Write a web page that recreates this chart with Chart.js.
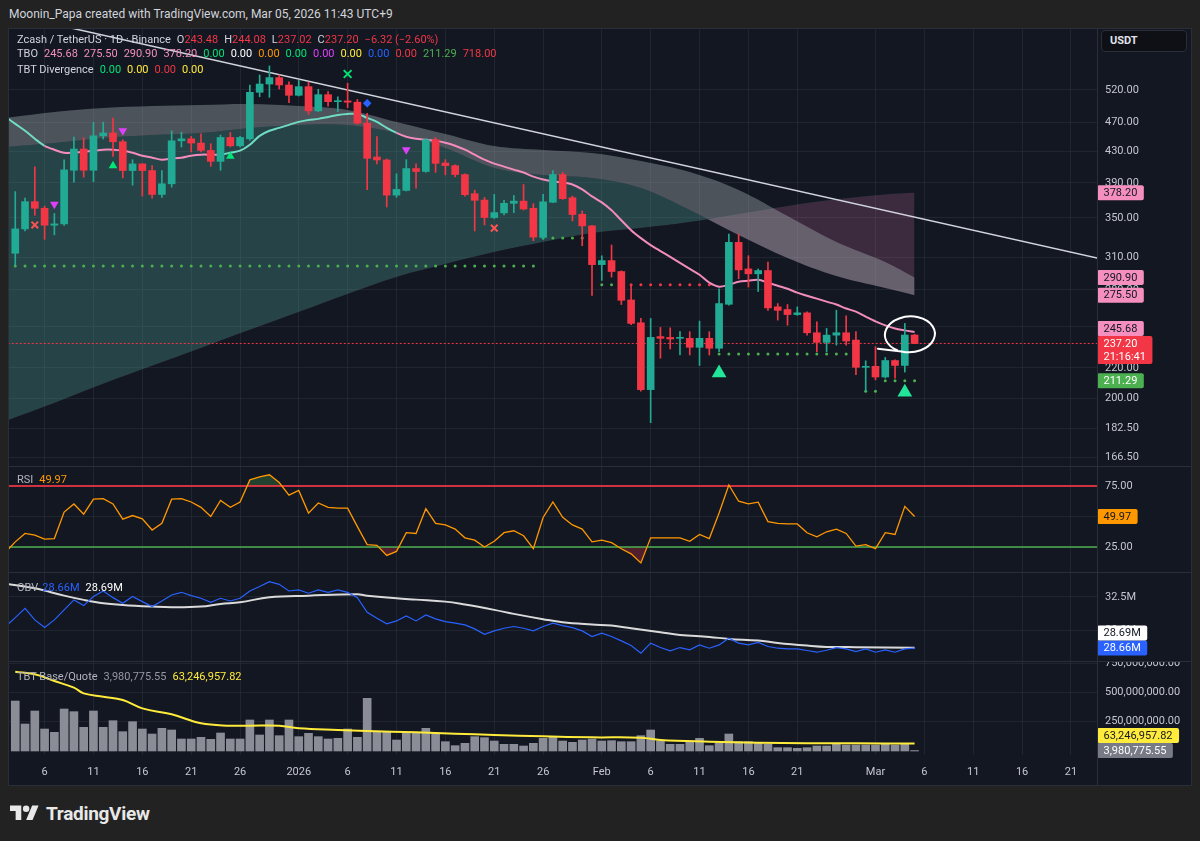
<!DOCTYPE html>
<html>
<head>
<meta charset="utf-8">
<title>Zcash / TetherUS · 1D · Binance</title>
<script src="https://cdn.jsdelivr.net/npm/chart.js@4.4.1/dist/chart.umd.min.js"></script>
<style>
  html, body { margin:0; padding:0; background:#222222; }
  #root { position:relative; width:1200px; height:841px; overflow:hidden; background:#222222; font-family: Roboto, "Liberation Sans", sans-serif; }
  #hdr { position:absolute; left:9px; top:6px; font-size:12px; line-height:16px; color:#d1d4dc; white-space:nowrap; }
  #frame { position:absolute; left:8px; top:28px; width:1184px; height:758px; background:#131722; box-sizing:border-box; border:1px solid #2a2e39; }
  canvas { position:absolute; left:9px; }
  .sep { position:absolute; background:#2a2e39; }
  .lg { position:absolute; left:17px; height:14px; line-height:14px; font-size:11px; white-space:nowrap; color:#d1d4dc; }
  .lg span { margin-left:6px; }
  .lg span.f { margin-left:0; }
  .lg i { font-style:normal; }
  #usdt { position:absolute; left:1101px; top:30px; width:86px; height:22px; box-sizing:border-box; border:1px solid #2a2e39; border-radius:4px; background:#0e1016; color:#e0e3eb; font-size:11px; font-weight:bold; line-height:20px; padding-left:8px; }
  #logo { position:absolute; left:10px; top:802px; height:22px; display:flex; align-items:center; color:#e8e8e8; font-size:19px; font-weight:bold; letter-spacing:-0.3px; }
  #logo svg { width:29px; height:23px; margin-right:7px; fill:#e8e8e8; }
</style>
</head>
<body>
<div id="root">
  <div id="hdr">Moonin_Papa created with TradingView.com, Mar 05, 2026 11:43 UTC+9</div>
  <div id="frame"></div>
  <canvas id="cMain" width="1182" height="437" style="top:29px"></canvas>
  <canvas id="cRsi" width="1182" height="105" style="top:467px"></canvas>
  <canvas id="cObv" width="1182" height="88" style="top:573px"></canvas>
  <canvas id="cVol" width="1182" height="123" style="top:662px"></canvas>
  <div class="sep" style="left:9px;top:466px;width:1182px;height:1px"></div>
  <div class="sep" style="left:9px;top:572px;width:1182px;height:1px"></div>
  <div class="sep" style="left:9px;top:661px;width:1182px;height:1px"></div>
  <div class="sep" style="left:1097px;top:29px;width:1px;height:756px"></div>

  <div class="lg" style="top:33px"><span class="f">Zcash / TetherUS · 1D · Binance</span><span>O<i style="color:#f23645">243.48</i></span><span>H<i style="color:#f23645">244.08</i></span><span>L<i style="color:#f23645">237.02</i></span><span>C<i style="color:#f23645">237.20</i></span><span style="color:#f23645">−6.32 (−2.60%)</span></div>
  <div class="lg" style="top:47px"><span class="f">TBO</span><span style="color:#f48fbf">245.68</span><span style="color:#f48fbf">275.50</span><span style="color:#f48fbf">290.90</span><span style="color:#f48fbf">378.20</span><span style="color:#00e676">0.00</span><span style="color:#ffffff">0.00</span><span style="color:#ff9800">0.00</span><span style="color:#00e676">0.00</span><span style="color:#e040fb">0.00</span><span style="color:#ffeb3b">0.00</span><span style="color:#2962ff">0.00</span><span style="color:#f23645">0.00</span><span style="color:#4caf50">211.29</span><span style="color:#f23645">718.00</span></div>
  <div class="lg" style="top:63px"><span class="f">TBT Divergence</span><span style="color:#00e676">0.00</span><span style="color:#ffeb3b">0.00</span><span style="color:#f23645">0.00</span><span style="color:#ffeb3b">0.00</span></div>
  <div class="lg" style="top:473px"><span class="f" style="color:#b2b5be">RSI</span><span style="color:#ff9800">49.97</span></div>
  <div class="lg" style="top:581px"><span class="f" style="color:#b2b5be">OBV</span><span style="color:#2962ff;margin-left:4px">28.66M</span><span style="color:#ffffff">28.69M</span></div>
  <div class="lg" style="top:670px"><span class="f" style="color:#b2b5be">TBT Base/Quote</span><span style="color:#9598a1">3,980,775.55</span><span style="color:#ffeb3b">63,246,957.82</span></div>

  <div id="usdt">USDT</div>
  <div id="logo"><svg viewBox="0 0 36 28"><path d="M14 22H7V11H0V4h14v18zM28 22h-8l7.5-18h8L28 22z"/><circle cx="20" cy="8" r="4"/></svg>TradingView</div>
</div>

<script>
// ================= DATA =================
// Daily candles, Dec 3 2025 .. Mar 5 2026 (93 sessions). x = days from Jan 1 2026.
const firstCandleDay = -29;
const open = [313.6,338.2,368,360.5,342.1,343.5,405.6,433.1,405.6,451.2,
455.2,443,405.2,413.6,405.2,376.3,388.9,444.3,447,441.2,
431.3,416.9,448.9,437.5,447,516.3,529.7,540.3,528.1,511.5,
525.4,487.4,512.5,501.5,502.7,500.7,469.2,422.6,418.7,375.5,
381,407.7,404,445.7,414.8,411.4,400.2,377.2,369.8,350.3,
355.4,366.1,368.6,360.5,329.4,367.3,400.2,372.5,353.9,341.4,
302.8,306.6,296.4,271.4,252.9,205.6,242.3,241.7,241,241,
234.4,241,233.7,267.8,324.4,298.8,294.3,297.3,265.7,263.5,
259.4,260.8,245.2,238,243.4,245.2,239.7,220.3,221,213.8,
225,221.6,243.48];
const high = [379.6,372,409.8,363,354.7,419,449.5,448.5,470.7,470.7,
476.5,445.7,419,414,411.4,405.2,458.2,456.5,450.4,454,
440.3,452.2,455.9,450.4,528.1,544.7,560.2,544.7,533.5,536.3,
533,521.2,517.3,509.2,531,505,483.9,450.3,420,401.1,
419.1,413.6,447.5,448.9,419.1,412.3,401.1,381.4,372.9,376.3,
369.5,375.2,388.1,365.7,376.3,405.2,403,374.4,357.5,342,
311.2,321.7,297,283.9,256.3,256.3,249.3,249,246,246,
254.2,246,281,332.8,332.8,311.3,298.8,305.1,268.4,267.6,
265.7,261.6,253.7,248.5,262.9,258.4,246,224.8,234.9,227.1,
225.5,252.4,244.08];
const low = [302.5,336,352.8,327.4,332,342,390.9,397,391.4,446.7,
423.3,396.1,387.3,374.4,372.1,372.9,384.9,435.8,429.2,429.2,
410.5,405.6,435.8,435.8,444.9,509.2,508.3,521.6,500,510.4,
482.4,486.3,494.4,486.3,492.3,468,382,413.6,362,372.9,
380.3,383.7,403,403,399.8,397.2,374.4,336.1,342.4,349.2,
353.2,355.7,358.6,326,327.7,366.7,370.6,346.7,321,275.2,
288.3,291.3,267.6,251.5,204.6,185.6,226.6,233.2,228.9,228.9,
221.6,228.9,231.3,267,289.8,282.5,278.6,262.8,255,251,
258.8,243.4,231.3,231.3,236,236,215.3,204.6,211.9,213.1,
213.1,217.1,237.02];
const close = [338.2,368,360.5,342.1,343.5,406,433.1,405.6,451.2,455.2,
443,405.2,413.6,405.2,376.3,388.9,444.3,447,441.2,431.3,
416.9,448.9,437.5,448.9,516.3,529.7,540.3,528.1,511.5,525.4,
487.4,512.5,501.5,502.7,500.7,469.2,420.8,418.7,375.5,382.2,
407.7,404,445.7,414.3,411.4,400.2,376,369.5,350.3,355.7,
366.1,368.6,359.7,329.7,367.8,400.2,371.4,353.6,341.4,302.8,
306.6,296.4,271.1,252.4,205.6,241.7,241,240.5,241.7,234.4,
241,233.7,268.4,324.4,297.9,294.3,297.3,264.8,262.8,259.4,
260.8,245.2,238,243.4,245.2,239,220.3,221,213.8,225,
221.6,243.48,237.2];

// TBT Base/Quote volume (millions), per candle
const volumeM = [426.6,230.4,341.3,187.7,159.3,358.3,335.6,201.9,341.3,201.9,
258.8,165,250.3,187.7,145,193.4,179.2,102.4,102.4,116.6,
99.5,153.6,102.4,102.4,264.5,136.5,264.5,130.8,264.5,122.3,
150.7,122.3,102.4,108.1,187.7,116.6,449.4,165,165,93.9,
159.3,159.3,193.4,150.7,79.6,45.5,65.4,122.3,113.8,85.3,
56.9,56.9,42.7,65.4,108.1,122.3,85.3,73.9,93.9,102.4,
85.3,88.2,79.6,79.6,130.8,179.2,88.2,56.9,56.9,79.6,
108.1,45.5,71.1,145,79.6,79.6,65.4,56.9,28.4,28.4,
22.8,28.4,42.7,42.7,65.4,51.2,51.2,51.2,51.2,56.9,
51.2,65.4,3.98];
const volMaDays = [-29,-27,-25,-23,-22,-20,-18,-16,-13,-10,-7,-5,-2,0,4,7,12,16,20,25,30,35,37,42,47,52,57,63];
const volMaM = [676.9,654.1,597.2,540.4,492,463.6,435.1,364,312.8,236.1,216.1,216.1,216.1,193.4,179.2,170.6,159.3,147.9,136.5,125.1,116.6,113.8,93.9,79.6,71.1,65.4,65.4,63.25];

// Indicator series start one session earlier (Dec 2, day -30)
const firstIndicatorDay = -30;
const rsi = [20.8,29.2,36.1,34.7,31.4,31.9,53.6,60.3,51.9,64.2,64.7,
60.3,47.8,50.8,48.1,38.9,44.4,64.2,64.7,61.9,57.5,
50.0,63.1,57.5,61.9,80.0,82.5,84.2,77.8,67.5,71.4,
52.8,61.1,57.5,56.9,56.9,41.7,26.9,26.4,18.1,21.4,
36.7,36.1,56.4,44.4,43.1,39.7,32.5,30.6,25.0,29.7,
36.7,38.3,34.2,23.6,49.2,61.9,49.4,43.1,39.7,29.2,
30.6,28.6,23.6,19.4,11.9,32.5,32.5,32.5,32.5,29.7,
35.3,31.9,52.8,75.8,62.5,60.3,61.7,45.8,44.4,43.9,
43.9,36.7,33.3,37.5,39.7,36.1,25.8,26.9,23.6,36.7,
35.3,58.3,49.97];
const obvM = [30.27,30.95,31.65,30.78,30.20,30.78,31.53,32.28,31.85,32.53,32.95,
32.45,32.03,32.53,32.15,31.78,32.20,32.65,32.85,32.60,32.40,
32.10,32.40,32.20,32.40,32.95,33.28,33.65,33.45,32.95,33.03,
32.78,33.03,32.85,33.03,32.85,32.45,31.35,30.90,30.48,30.70,
31.08,30.70,31.15,30.85,30.65,30.53,30.40,30.10,29.70,29.95,
30.15,30.28,30.15,29.95,30.28,30.53,30.35,30.20,29.95,29.53,
29.78,29.53,29.20,28.85,28.28,29.03,28.70,28.45,28.70,28.53,
28.90,28.65,28.90,29.40,29.03,28.90,29.08,28.78,28.65,28.60,
28.60,28.48,28.35,28.50,28.70,28.60,28.40,28.60,28.35,28.53,
28.35,28.60,28.66];
const obvMaDays = [-30,-27,-24,-22,-20,-18,-15,-13,-10,-8,-6,-3,1,6,7,10,12,15,17,20,22,25,27,30,32,34,37,39,42,44,47,49,52,54,57,63];
const obvMaM = [33.50,33.15,32.60,32.28,32.03,31.90,31.78,31.73,31.78,31.98,32.10,32.48,32.60,32.70,32.60,32.40,32.30,32.15,31.93,31.53,31.23,30.83,30.60,30.43,30.35,30.15,29.85,29.65,29.50,29.35,29.23,29.05,28.85,28.75,28.73,28.69];
// TBO fast line
const tboFast = [478.7,468.2,458.3,447.1,437.5,432.2,428.2,428.2,429.5,430.9,432.2,
432.2,430.9,428.2,424.3,421.7,419.1,420.4,421.7,424.3,425.6,
425.6,425.6,428.2,430.9,438.9,451.2,458.3,462.5,466.8,471.1,
474.0,475.5,478.4,481.4,482.9,482.9,476.9,471.1,462.5,455.4,
449.9,447.1,445.7,444.3,441.6,437.5,432.2,425.6,419.1,414.0,
410.2,406.4,402.7,397.7,394.1,391.7,390.5,388.1,382.2,374.0,
367.2,358.3,347.4,336.9,328.7,321.7,315.8,310.1,304.4,298.8,
293.4,286.3,282.8,284.5,287.2,288.1,289.0,286.3,283.6,281.0,
277.6,275.0,272.5,270.0,267.6,264.3,261.8,257.8,254.0,250.9,
248.5,247.0,245.68];
const tboFastBullSpans = [[-30,-26],[-8,10]];
// TBO cloud lines (medium / slow / slowest)
const cloudDays  = [-30,-25,-20,-15,-10,-5,0,5,10,15,20,25,30,35,40,45,50,55,60,63];
const cloudUpper = [476.8,485.8,491.8,494.9,496.4,497.9,494.9,488.8,471.0,453.8,437.2,431.9,427.9,417.4,403.4,381.6,352.0,324.8,305.3,290.9];
const cloudMid   = [435.9,441.3,448.2,452.4,455.2,462.3,466.6,466.6,455.2,434.5,408.5,399.7,396.0,383.9,358.6,331.9,309.1,292.3,281.7,275.5];
const cloudSlow  = [186.6,197.3,209.3,221.3,233.9,247.4,261.5,276.5,291.5,303.4,314.9,324.8,334.0,339.2,345.5,354.2,363.1,370.6,376.3,378.2];
// TBO support / stop dots, per candle
const supportLvl = [301.6,301.6,301.6,301.6,301.6,301.6,301.6,301.6,301.6,301.6,
301.6,301.6,301.6,301.6,301.6,301.6,301.6,301.6,301.6,301.6,
301.6,301.6,301.6,301.6,301.6,301.6,301.6,301.6,301.6,301.6,
301.6,301.6,301.6,301.6,301.6,301.6,301.6,301.6,301.6,301.6,
301.6,301.6,301.6,301.6,301.6,301.6,301.6,301.6,301.6,301.6,
301.6,301.6,301.6,301.6,328.7,328.7,328.7,328.7,328.7,328.7,
284.6,284.6,284.6,284.6,284.6,284.6,284.6,284.6,284.6,284.6,
284.6,284.6,229.6,229.6,229.6,229.6,229.6,229.6,229.6,229.6,
229.6,229.6,229.6,229.6,229.6,229.6,229.6,204.6,204.6,211.29,
211.29,211.29,211.29];
const supportBearCandles = [60,63,64,65,66,67,68,69,70,71,72];
// Signal markers (day, price)
const sellDays = [-25,-18,11],  sellPx = [364.9,458.3,432.2];
const buyDays = [-19,-7],       buyPx = [411.4,423.4];
const bigBuyDays = [43,62],     bigBuyPx = [216.4,204.0];
const exitDays = [-27,20],      exitPx = [342.4,339.0];
const topDays = [5],            topPx = [546.4];
const divDays = [7],            divPx = [499.0];
// Trend line (two anchors) and last price
const trendDays = [-30, 84], trendPx = [659.4, 304.2];
const lastPrice = 237.20;
// Hand-drawn ring annotation box (days / prices)
const ring = { day0: 59.96, day1: 65.08, top: 257.9, bottom: 230.8 };
// Axis ticks
const tickDays = [-26,-21,-16,-11,-6,0,5,10,15,20,25,31,36,41,46,51,59,64,69,74,79];
const tickLabels = ['6','11','16','21','26','2026','6','11','16','21','26','Feb','6','11','16','21','Mar','6','11','16','21'];
const priceTicks = [166.5,182.5,200,220,250,280,310,350,390,430,470,520];
const rsiTicks = [25,50,75];
const obvTicks = [30,32.5];
const volTicks = [250,500,750];

// ================= STYLE =================
const FONT = "Roboto, 'Liberation Sans', sans-serif";
const AXIS_TXT = '#c4c7ce';
const GRID = 'rgba(42,46,57,0.6)';
const UP = '#22ab94', DOWN = '#f23645';
const X_MIN = -29.64, X_MAX = 81.66;

const TAGS = {
  cMain: [
    { value: 378.2, text: '378.20', bg: '#f48fbf', fg: '#131722' },
    { value: 290.9, text: '290.90', bg: '#f48fbf', fg: '#131722' },
    { value: 275.5, text: '275.50', bg: '#f48fbf', fg: '#131722' },
    { value: 245.68, text: '245.68', bg: '#f48fbf', fg: '#131722' },
    { value: 237.2, text: '237.20', sub: '21:16:41', bg: '#f23645', fg: '#ffffff' },
    { value: 211.29, text: '211.29', bg: '#4caf50', fg: '#ffffff' }
  ],
  cRsi: [ { value: 49.97, text: '49.97', bg: '#ff9800', fg: '#131722' } ],
  cObv: [
    { value: 28.69, text: '28.69M', bg: '#ffffff', fg: '#131722' },
    { value: 28.66, text: '28.66M', bg: '#2962ff', fg: '#ffffff' }
  ],
  cVol: [
    { value: 63.25, text: '63,246,957.82', bg: '#ffeb3b', fg: '#131722' },
    { value: 3.98, text: '3,980,775.55', bg: '#787b86', fg: '#ffffff' }
  ]
};

const tagPlugin = {
  id: 'priceTags',
  afterDraw(chart) {
    const items = TAGS[chart.canvas.id];
    if (!items) return;
    const ctx = chart.ctx, ys = chart.scales.y, x0 = chart.chartArea.right;
    const H = 15;
    ctx.save();
    ctx.font = '11px ' + FONT;
    const boxes = items.map(t => ({ t, top: ys.getPixelForValue(t.value) - H / 2, h: t.sub ? 2 * H - 2 : H }))
      .sort((a, b) => b.top - a.top);
    let limit = Infinity;
    boxes.forEach(b => { if (b.top + b.h > limit) b.top = limit - b.h; limit = b.top; });
    boxes.forEach(b => {
      const w = Math.max(ctx.measureText(b.t.text).width, b.t.sub ? ctx.measureText(b.t.sub).width : 0) + 13;
      ctx.fillStyle = b.t.bg;
      ctx.beginPath();
      if (ctx.roundRect) ctx.roundRect(x0, b.top, w, b.h, 2); else ctx.rect(x0, b.top, w, b.h);
      ctx.fill();
      ctx.fillStyle = b.t.fg; ctx.textAlign = 'left'; ctx.textBaseline = 'middle';
      ctx.fillText(b.t.text, x0 + 6.5, b.top + H / 2 + 0.5);
      if (b.t.sub) ctx.fillText(b.t.sub, x0 + 6.5, b.top + H / 2 + H - 1.5);
    });
    ctx.restore();
  }
};

const ringPlugin = {
  id: 'ring',
  afterDatasetsDraw(chart) {
    if (chart.canvas.id !== 'cMain') return;
    const xs = chart.scales.x, ys = chart.scales.y, ctx = chart.ctx;
    const l = xs.getPixelForValue(ring.day0), r = xs.getPixelForValue(ring.day1);
    const t = ys.getPixelForValue(ring.top), b = ys.getPixelForValue(ring.bottom);
    const cx = (l + r) / 2, cy = (t + b) / 2, rx = (r - l) / 2, ry = (b - t) / 2;
    ctx.save();
    ctx.strokeStyle = '#ffffff'; ctx.lineWidth = 2; ctx.lineCap = 'round'; ctx.lineJoin = 'round';
    ctx.beginPath();
    ctx.moveTo(cx - rx * 1.28, cy + ry * 0.8);
    ctx.ellipse(cx, cy, rx, ry, -0.05, 0.62 * Math.PI, -1.32 * Math.PI, true);
    ctx.stroke();
    ctx.restore();
  }
};
Chart.register(tagPlugin, ringPlugin);

function xAxis(show) {
  return {
    type: 'linear', min: X_MIN, max: X_MAX, bounds: 'data', offset: false,
    afterBuildTicks: s => { s.ticks = tickDays.map(v => ({ value: v })); },
    afterFit: s => { s.height = show ? 30 : 0; s.paddingLeft = 0; s.paddingRight = 0; },
    grid: { color: GRID, drawTicks: false, offset: false },
    border: { display: false },
    ticks: {
      display: show, color: AXIS_TXT, font: { family: FONT, size: 11 }, padding: 11,
      maxRotation: 0, autoSkip: false,
      callback: v => { const k = tickDays.indexOf(v); return k >= 0 ? tickLabels[k] : ''; }
    }
  };
}
function yAxis(type, min, max, ticks, fmt) {
  return {
    type, position: 'right', min, max, bounds: 'data',
    afterBuildTicks: s => { s.ticks = ticks.map(v => ({ value: v })); },
    afterFit: s => { s.width = 94; s.paddingTop = 0; s.paddingBottom = 0; },
    grid: { color: GRID, drawTicks: false },
    border: { display: false },
    ticks: { color: AXIS_TXT, font: { family: FONT, size: 11 }, padding: 8, autoSkip: false, callback: v => fmt(v) }
  };
}
function options(yCfg, showX) {
  return {
    responsive: false, animation: false, events: [], devicePixelRatio: 1,
    layout: { padding: 0, autoPadding: false },
    elements: { point: { radius: 0, hoverRadius: 0 } },
    plugins: { legend: { display: false }, tooltip: { enabled: false } },
    scales: { x: xAxis(showX), y: yCfg }
  };
}
const pts = (xs, ys) => xs.map((x, i) => ({ x, y: ys[i] }));
const candleDays = close.map((_, i) => firstCandleDay + i);
const indDays = rsi.map((_, i) => firstIndicatorDay + i);
function marker(days, prices, style, radius, rotation, color, stroke) {
  return {
    type: 'line', data: pts(days, prices), showLine: false, order: 0,
    pointStyle: style, pointRadius: radius, pointRotation: rotation,
    pointBackgroundColor: color, pointBorderColor: color, pointBorderWidth: stroke ? 2 : 0
  };
}

// ================= MAIN PRICE PANE =================
const candleCol = close.map((c, i) => c >= open[i] ? UP : DOWN);
const supportCol = supportLvl.map((_, i) => supportBearCandles.includes(i + 1) ? '#f23645' : '#4caf50');
const inBull = x => tboFastBullSpans.some(([a, b]) => x >= a && x < b);

new Chart(document.getElementById('cMain'), {
  type: 'line',
  data: { datasets: [
    marker(sellDays, sellPx, 'triangle', 5, 180, '#e040fb', false),
    marker(buyDays, buyPx, 'triangle', 5, 0, '#00e676', false),
    marker(bigBuyDays, bigBuyPx, 'triangle', 8.5, 0, '#22e59a', false),
    marker(exitDays, exitPx, 'crossRot', 4.7, 0, '#ff5252', true),
    marker(topDays, topPx, 'crossRot', 5.5, 0, '#00e676', true),
    marker(divDays, divPx, 'rectRot', 4.3, 0, '#2962ff', false),
    { type: 'bar', data: candleDays.map((d, i) => ({ x: d, y: [open[i], close[i]] })), backgroundColor: candleCol,
      borderWidth: 0, barThickness: 7, grouped: false, minBarLength: 1, order: 1 },
    { type: 'bar', data: candleDays.map((d, i) => ({ x: d, y: [low[i], high[i]] })), backgroundColor: candleCol,
      borderWidth: 0, barThickness: 1, grouped: false, order: 2 },
    { type: 'line', data: pts(indDays, tboFast), borderColor: '#f28cbc', borderWidth: 2, tension: 0.3, order: 3,
      segment: { borderColor: c => inBull(c.p0.parsed.x) ? '#6fdcc3' : '#f28cbc' } },
    { type: 'line', data: pts(candleDays, supportLvl), showLine: false, order: 4,
      pointRadius: 1.5, pointBackgroundColor: supportCol, pointBorderWidth: 0 },
    { type: 'line', data: pts(trendDays, trendPx), borderColor: '#d1d4dc', borderWidth: 1.5, order: 5 },
    { type: 'line', data: pts([-31, 84], [lastPrice, lastPrice]), borderColor: '#f23645', borderWidth: 1, borderDash: [2, 2], order: 6 },
    { type: 'line', data: pts(cloudDays, cloudUpper), borderWidth: 0, borderColor: 'rgba(0,0,0,0)', tension: 0.35,
      fill: '+1', backgroundColor: 'rgba(178,190,192,0.36)', order: 10 },
    { type: 'line', data: pts(cloudDays, cloudMid), borderWidth: 0, borderColor: 'rgba(0,0,0,0)', tension: 0.35,
      fill: { target: '+1', above: 'rgba(80,160,150,0.33)', below: 'rgba(210,120,170,0.22)' }, order: 11 },
    { type: 'line', data: pts(cloudDays, cloudSlow), borderWidth: 0, borderColor: 'rgba(0,0,0,0)', tension: 0.35, fill: false, order: 12 }
  ] },
  options: options(yAxis('logarithmic', 162.3, 628.1, priceTicks, v => v.toFixed(2)), false)
});

// ================= RSI PANE =================
new Chart(document.getElementById('cRsi'), {
  type: 'line',
  data: { datasets: [
    { data: pts(indDays, rsi), borderColor: '#ff9800', borderWidth: 1.3, order: 0 },
    { data: pts(indDays, rsi), borderWidth: 0, borderColor: 'rgba(0,0,0,0)', order: 3,
      fill: { target: { value: 75 }, above: 'rgba(76,175,80,0.28)', below: 'rgba(0,0,0,0)' } },
    { data: pts(indDays, rsi), borderWidth: 0, borderColor: 'rgba(0,0,0,0)', order: 4,
      fill: { target: { value: 25 }, above: 'rgba(0,0,0,0)', below: 'rgba(242,54,69,0.28)' } },
    { data: pts([-31, 84], [75, 75]), borderColor: 'rgba(242,54,69,0.85)', borderWidth: 2, order: 1 },
    { data: pts([-31, 84], [25, 25]), borderColor: '#4caf50', borderWidth: 1.5, order: 2 }
  ] },
  options: options(yAxis('linear', 4.51, 90.57, rsiTicks, v => v === 50 ? '' : v.toFixed(2)), false)
});

// ================= OBV PANE =================
new Chart(document.getElementById('cObv'), {
  type: 'line',
  data: { datasets: [
    { data: pts(indDays, obvM), borderColor: '#2962ff', borderWidth: 1.2, order: 0 },
    { data: pts(obvMaDays, obvMaM), borderColor: 'rgba(235,235,235,0.92)', borderWidth: 2, tension: 0.4, order: 1 }
  ] },
  options: options(yAxis('linear', 27.69, 34.30, obvTicks, v => v.toFixed(1) + 'M'), false)
});

// ================= VOLUME PANE =================
new Chart(document.getElementById('cVol'), {
  type: 'line',
  data: { datasets: [
    { data: pts(volMaDays, volMaM), borderColor: '#ffeb3b', borderWidth: 2, tension: 0.4, order: 0 },
    { type: 'bar', data: pts(candleDays, volumeM), backgroundColor: '#8a8d96', borderWidth: 0, barThickness: 8, grouped: false, order: 1 }
  ] },
  options: options(yAxis('linear', -34.1, 759.4, volTicks,
    v => (v * 1e6).toLocaleString('en-US', { minimumFractionDigits: 2, maximumFractionDigits: 2 })), true)
});
</script>
</body>
</html>
